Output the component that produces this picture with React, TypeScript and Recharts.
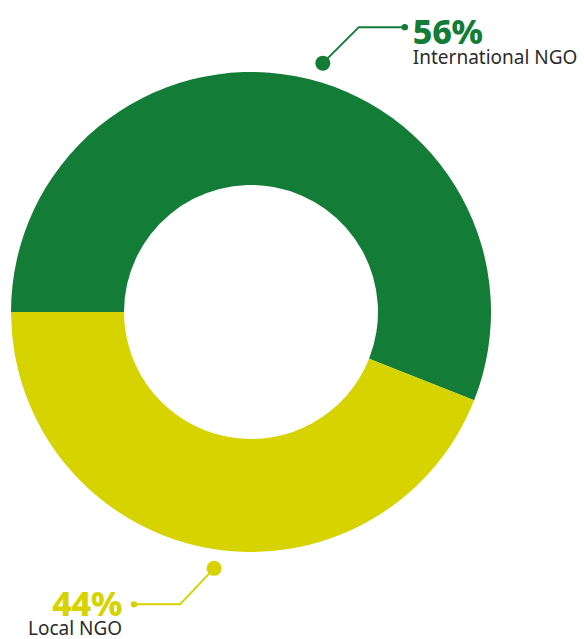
import React from "react"
import { PieChart, Pie, Cell } from "recharts"

const categories = ["International NGO", "Local NGO"]
const shares = [56, 44]
const colors = ["#137D37", "#D6D300"]

const data = categories.map((name, i) => ({ name, value: shares[i] }))

const RAD = Math.PI / 180

// callout: big dot near the ring, elbow line, small dot, then percent + name
const renderLabel = (props: any) => {
  const { cx, cy, midAngle, outerRadius, index, payload } = props
  const adj = index === 0 ? -5.3 : 2.6
  const ang = (midAngle + adj) * RAD
  const r = outerRadius + 19
  const x0 = cx + r * Math.cos(ang)
  const y0 = cy - r * Math.sin(ang)
  const right = index === 0
  const up = y0 < cy
  const x1 = x0 + (right ? 36 : -34)
  const y1 = y0 + (up ? -36 : 36)
  const x2 = x1 + (right ? 46 : -46)
  const color = colors[index]
  const tx = right ? x2 + 8 : x2 - 12
  return (
    <g>
      <circle cx={x0} cy={y0} r={7.5} fill={color} />
      <polyline points={`${x0},${y0} ${x1},${y1} ${x2},${y1}`} fill="none" stroke={color} strokeWidth={2} />
      <circle cx={x2} cy={y1} r={3.2} fill={color} />
      <text
        x={tx}
        y={y1 + (right ? 17 : 12)}
        textAnchor={right ? "start" : "end"}
        fill={color}
        fontFamily="Noto Sans"
        fontWeight={800}
        fontSize={34}
        letterSpacing={-0.3}
      >
        {`${payload.value}%`}
      </text>
      <text
        x={right ? tx : 28}
        y={y1 + (right ? 37 : 31)}
        textAnchor="start"
        fill="#2b2b2b"
        fontFamily="Noto Sans"
        fontSize={19}
      >
        {payload.name}
      </text>
    </g>
  )
}

export default function App() {
  return (
    <div style={{ position: "absolute", left: 0, top: 0, width: 584, height: 639, background: "#fff" }}>
      <PieChart width={584} height={639} margin={{ top: 0, right: 0, bottom: 0, left: 0 }}>
        <Pie
          data={data}
          dataKey="value"
          cx={251}
          cy={312}
          innerRadius={127}
          outerRadius={240}
          startAngle={180}
          endAngle={-180}
          stroke="none"
          labelLine={false}
          label={renderLabel}
          isAnimationActive={false}
        >
          {data.map((d, i) => (
            <Cell key={d.name} fill={colors[i]} />
          ))}
        </Pie>
      </PieChart>
    </div>
  )
}
